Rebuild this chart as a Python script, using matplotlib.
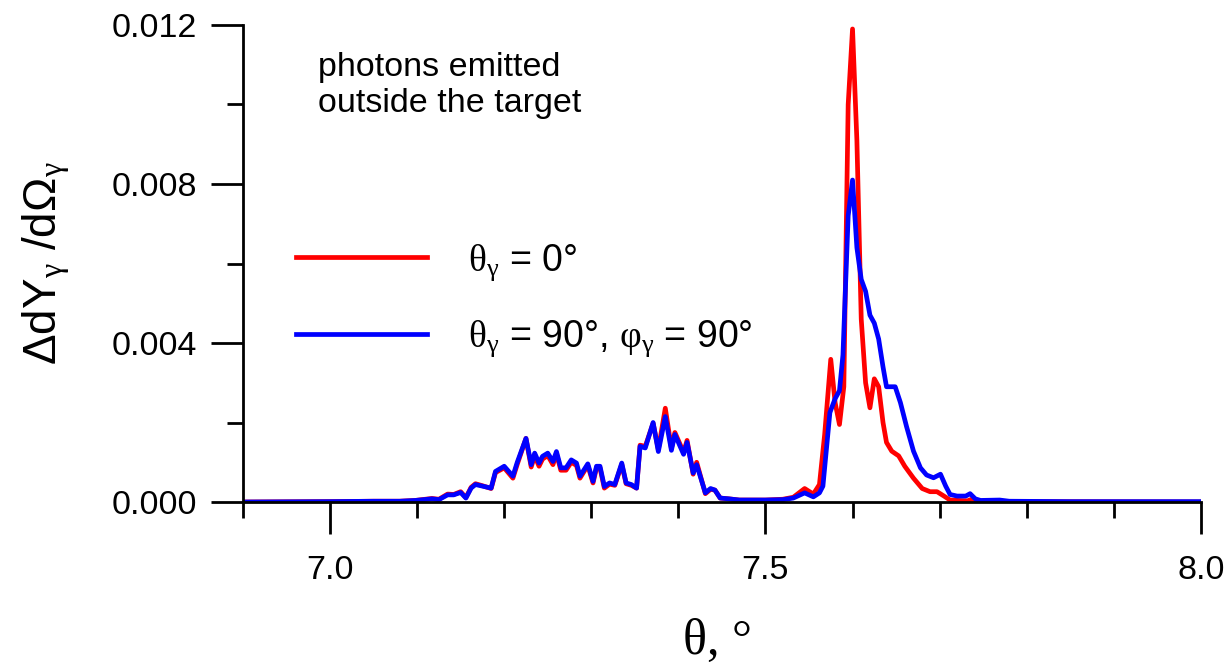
import matplotlib
matplotlib.use('Agg')
import matplotlib.pyplot as plt
from matplotlib.ticker import MultipleLocator, FormatStrFormatter

plt.rcParams['font.family'] = ['Liberation Sans', 'DejaVu Sans']
plt.rcParams['mathtext.fontset'] = 'custom'
plt.rcParams['mathtext.rm'] = 'Liberation Serif'
plt.rcParams['mathtext.it'] = 'Liberation Serif:italic'

# data
x_blue = [6.90, 7.00, 7.05, 7.08, 7.098, 7.117, 7.125, 7.135, 7.142, 7.150, 7.156, 7.162, 7.167,
          7.175, 7.185, 7.190, 7.200, 7.210, 7.215, 7.225, 7.231, 7.235, 7.240, 7.244, 7.250,
          7.256, 7.260, 7.265, 7.271, 7.277, 7.283, 7.287, 7.296, 7.302, 7.306, 7.310, 7.315,
          7.321, 7.327, 7.335, 7.340, 7.346, 7.352, 7.356, 7.362, 7.371, 7.377, 7.385, 7.392,
          7.396, 7.406, 7.410, 7.417, 7.421, 7.431, 7.437, 7.442, 7.448, 7.458, 7.47, 7.50,
          7.52, 7.532, 7.545, 7.555, 7.562, 7.566, 7.574, 7.580, 7.585, 7.589, 7.595, 7.600,
          7.605, 7.610, 7.615, 7.620, 7.625, 7.630, 7.635, 7.639, 7.649, 7.655, 7.662, 7.670,
          7.678, 7.685, 7.693, 7.701, 7.707, 7.712, 7.720, 7.730, 7.735, 7.741, 7.747, 7.769,
          7.78, 7.85, 8.00]
y_blue = [0.0, 0.00001, 0.00002, 0.00002, 0.00004, 0.00008, 0.00006, 0.00018, 0.00018, 0.00024,
          0.0001, 0.00035, 0.00044, 0.0004, 0.00035, 0.00077, 0.0009, 0.00065, 0.001, 0.0016,
          0.00094, 0.00123, 0.00098, 0.00115, 0.00123, 0.00102, 0.00127, 0.00086, 0.00086,
          0.00106, 0.00098, 0.00065, 0.00096, 0.00052, 0.0009, 0.0009, 0.00039, 0.00048,
          0.00044, 0.00098, 0.00048, 0.00044, 0.00035, 0.0014, 0.00136, 0.002, 0.00127,
          0.00215, 0.0013, 0.0017, 0.0012, 0.0015, 0.00073, 0.00094, 0.00023, 0.00034, 0.0003,
          0.0001, 0.00008, 0.00005, 0.00005, 0.00006, 0.0001, 0.00023, 0.00013, 0.00023,
          0.0004, 0.00225, 0.0026, 0.0028, 0.0037, 0.0072, 0.0081, 0.0064, 0.0056, 0.0053,
          0.0047, 0.0045, 0.0041, 0.0034, 0.0029, 0.0029, 0.0025, 0.0019, 0.00128, 0.00086,
          0.00068, 0.00061, 0.0007, 0.0004, 0.00019, 0.00015, 0.00015, 0.00021, 0.00008,
          0.00004, 0.00005, 0.00002, 0.00001, 0.00001]

x_red = [6.90, 7.00, 7.05, 7.08, 7.098, 7.117, 7.125, 7.135, 7.142, 7.150, 7.156, 7.162, 7.167,
         7.175, 7.185, 7.190, 7.200, 7.210, 7.215, 7.225, 7.231, 7.235, 7.240, 7.244, 7.250,
         7.256, 7.260, 7.265, 7.271, 7.277, 7.283, 7.287, 7.296, 7.302, 7.306, 7.310, 7.315,
         7.321, 7.327, 7.335, 7.340, 7.346, 7.352, 7.356, 7.362, 7.371, 7.377, 7.385, 7.392,
         7.396, 7.406, 7.410, 7.417, 7.421, 7.431, 7.437, 7.442, 7.448, 7.458, 7.47, 7.50,
         7.52, 7.532, 7.545, 7.555, 7.562, 7.568, 7.575, 7.580, 7.585, 7.590, 7.595, 7.600,
         7.605, 7.610, 7.615, 7.620, 7.625, 7.630, 7.635, 7.639, 7.645, 7.653, 7.660, 7.670,
         7.680, 7.689, 7.697, 7.705, 7.712, 7.732, 7.737, 7.747, 8.00]
y_red = [0.0, 0.00001, 0.00002, 0.00002, 0.00004, 0.00009, 0.00007, 0.0002, 0.00019, 0.00026,
         0.00011, 0.00037, 0.00046, 0.00041, 0.00034, 0.00074, 0.00086, 0.0006, 0.00095, 0.0016,
         0.00088, 0.00116, 0.0009, 0.00108, 0.00117, 0.00094, 0.00122, 0.0008, 0.0008,
         0.001, 0.00092, 0.0006, 0.00092, 0.00048, 0.00086, 0.00086, 0.00035, 0.00045,
         0.00042, 0.00095, 0.00046, 0.00042, 0.00035, 0.00143, 0.0014, 0.00198, 0.00132,
         0.00236, 0.00135, 0.00175, 0.00125, 0.00155, 0.0007, 0.001, 0.00021, 0.00032, 0.0003,
         0.0001, 0.00008, 0.00005, 0.00005, 0.00007, 0.00012, 0.00034, 0.0002, 0.00044,
         0.0017, 0.00359, 0.0025, 0.00195, 0.0029, 0.0100, 0.0119, 0.0091, 0.0046, 0.0030,
         0.00237, 0.0031, 0.0029, 0.0020, 0.0015, 0.00128, 0.00116, 0.0009, 0.0006, 0.00034,
         0.00026, 0.00026, 0.00015, 0.00005, 0.00003, 0.00007, 0.00001, 0.0]

label_red = r'$\mathrm{\theta_{\gamma}}$ = 0°'
label_blue = r'$\mathrm{\theta_{\gamma}}$ = 90°, $\mathrm{\varphi_{\gamma}}$ = 90°'

fig = plt.figure(figsize=(12.27, 6.63), dpi=100)
ax = fig.add_axes([0.198, 0.2428, 0.7807, 0.7195])

ax.plot(x_red, y_red, color='#ff0000', lw=3.4, label=label_red)
ax.plot(x_blue, y_blue, color='#0000ff', lw=3.4, label=label_blue)

ax.set_xlim(6.9, 8.0)
ax.set_ylim(0, 0.012)
for s in ['top', 'right']:
    ax.spines[s].set_visible(False)
for s in ['left', 'bottom']:
    ax.spines[s].set_linewidth(2.0)
    ax.spines[s].set_clip_on(False)

ax.xaxis.set_major_locator(MultipleLocator(0.5))
ax.xaxis.set_minor_locator(MultipleLocator(0.1))
ax.yaxis.set_major_locator(MultipleLocator(0.004))
ax.yaxis.set_minor_locator(MultipleLocator(0.002))
ax.yaxis.set_major_formatter(FormatStrFormatter('%.3f'))
ax.xaxis.set_major_formatter(FormatStrFormatter('%.1f'))

ax.tick_params(axis='both', which='major', direction='out', length=23, width=2.0, labelsize=24.5)
ax.tick_params(axis='both', which='minor', direction='out', length=11.5, width=2.0)
ax.tick_params(axis='x', which='major', pad=15)
ax.tick_params(axis='y', which='major', pad=10)

ax.set_ylabel('ΔdY$_{\\mathrm{\\gamma}}$ /dΩ$_{\\mathrm{\\gamma}}$', fontsize=33, va='center')
ax.yaxis.set_label_coords(-0.205, 0.5)
ax.set_xlabel('θ, °', fontsize=36, family='Liberation Serif', va='center')
ax.xaxis.set_label_coords(0.495, -0.293)

ax.text(0.078, 0.944, 'photons emitted\noutside the target', transform=ax.transAxes,
        fontsize=24.5, va='top', ha='left', linespacing=1.2)

ax.legend(loc='upper left', bbox_to_anchor=(0.055, 0.545), frameon=False, fontsize=27,
          handlelength=3.5, handletextpad=1.1, labelspacing=0.95, borderpad=0, borderaxespad=0)

fig.savefig('out.png', dpi=100)
